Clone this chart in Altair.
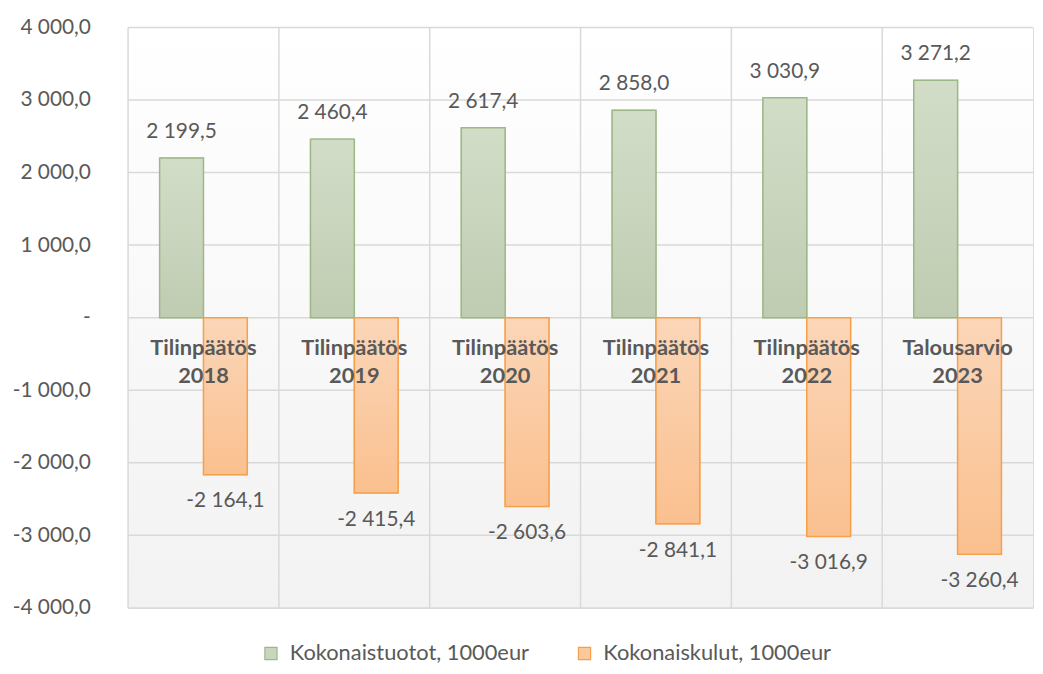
import altair as alt
import pandas as pd

# ---- data ----
categories = ["Tilinpäätös 2018", "Tilinpäätös 2019", "Tilinpäätös 2020",
              "Tilinpäätös 2021", "Tilinpäätös 2022", "Talousarvio 2023"]
income = [2199.5, 2460.4, 2617.4, 2858.0, 3030.9, 3271.2]
expenses = [-2164.1, -2415.4, -2603.6, -2841.1, -3016.9, -3260.4]
series_names = ["Kokonaistuotot, 1000eur", "Kokonaiskulut, 1000eur"]
tick_values = [4000, 3000, 2000, 1000, 0, -1000, -2000, -3000, -4000]
tick_labels = ["4 000,0", "3 000,0", "2 000,0", "1 000,0", "-",
               "-1 000,0", "-2 000,0", "-3 000,0", "-4 000,0"]

FONT = "Lato"
TXT = "#595959"
W, H = 912, 585


def fi_fmt(v):
    s = f"{abs(v):,.1f}".replace(",", " ").replace(".", ",")
    return ("-" if v < 0 else "") + s


rows = []
for c, a, b in zip(categories, income, expenses):
    rows.append({"cat": c, "series": series_names[0], "value": a, "label": fi_fmt(a)})
    rows.append({"cat": c, "series": series_names[1], "value": b, "label": fi_fmt(b)})
df = pd.DataFrame(rows)
cat_df = pd.DataFrame({"cat": categories,
                       "text": [c.replace(" ", "\n") for c in categories],
                       "zero": [0] * len(categories)})
tick_df = pd.DataFrame({"v": tick_values})

label_expr = "".join(f"datum.value == {v} ? '{l}' : " for v, l in zip(tick_values, tick_labels)) + "''"

x_scale = alt.Scale(paddingInner=0, paddingOuter=0)
x_enc = alt.X("cat:N", sort=categories, title=None, scale=x_scale, axis=None)
xo_enc = alt.XOffset("series:N", sort=series_names,
                     scale=alt.Scale(domain=series_names, paddingOuter=0.72, paddingInner=0))
y_scale = alt.Scale(domain=[-4000, 4000], nice=False, zero=False)
y_enc = alt.Y("value:Q", scale=y_scale, title=None,
              axis=alt.Axis(values=tick_values, labelExpr=label_expr, grid=False,
                            domain=False, ticks=False, tickSize=0, labelPadding=38,
                            labelFontSize=21, labelColor=TXT, labelFont=FONT))

base = alt.Chart(df)

bg = alt.Chart(pd.DataFrame({"a": [0]})).mark_rect(
    color=alt.LinearGradient(gradient="linear", x1=0, y1=0, x2=0, y2=1,
                             stops=[alt.GradientStop(color="#ffffff", offset=0),
                                    alt.GradientStop(color="#f2f2f2", offset=1)])
).encode(x=alt.value(0), x2=alt.value(W), y=alt.value(0), y2=alt.value(H))

hrules = alt.Chart(tick_df).mark_rule(color="#d9d9d9", strokeWidth=1.5).encode(
    y=alt.Y("v:Q", scale=y_scale))

vrules = alt.Chart(cat_df).mark_rule(color="#d9d9d9", strokeWidth=1.5).encode(
    x=alt.X("cat:N", sort=categories, bandPosition=0, scale=x_scale, axis=None))

leg = alt.Legend(title=None, orient="none", direction="horizontal",
                 legendX=133, legendY=620, symbolType="square", symbolSize=150,
                 symbolStrokeWidth=1.2, labelFontSize=22, labelColor=TXT,
                 labelFont=FONT, columnPadding=44, labelOffset=8, labelLimit=400)

legend_bars = base.mark_bar().encode(
    x=x_enc, xOffset=xo_enc, y=y_enc, y2=alt.datum(0),
    fill=alt.Fill("series:N", sort=series_names,
                  scale=alt.Scale(domain=series_names, range=["#c9d6bd", "#fbc99d"]),
                  legend=leg),
    stroke=alt.Stroke("series:N", sort=series_names,
                      scale=alt.Scale(domain=series_names, range=["#9db887", "#f5a04a"]),
                      legend=leg),
)

green_bars = base.transform_filter(alt.datum.series == series_names[0]).mark_bar(
    color=alt.LinearGradient(gradient="linear", x1=0, y1=0, x2=0, y2=1,
                             stops=[alt.GradientStop(color="#d2ddc8", offset=0),
                                    alt.GradientStop(color="#bfccb1", offset=1)]),
    stroke="#9db887", strokeWidth=1.5
).encode(x=x_enc, xOffset=xo_enc, y=y_enc, y2=alt.datum(0))

orange_bars = base.transform_filter(alt.datum.series == series_names[1]).mark_bar(
    color=alt.LinearGradient(gradient="linear", x1=0, y1=0, x2=0, y2=1,
                             stops=[alt.GradientStop(color="#fbd6b8", offset=0),
                                    alt.GradientStop(color="#fac08f", offset=1)]),
    stroke="#f5a04a", strokeWidth=1.5
).encode(x=x_enc, xOffset=xo_enc, y=y_enc, y2=alt.datum(0))

inc_labels = base.transform_filter(alt.datum.series == series_names[0]).mark_text(
    font=FONT, fontSize=21, color=TXT, baseline="middle", dy=-26
).encode(x=x_enc, xOffset=xo_enc, y=y_enc, text="label:N")

exp_labels = base.transform_filter(alt.datum.series == series_names[1]).mark_text(
    font=FONT, fontSize=21, color=TXT, baseline="middle", dy=27
).encode(x=x_enc, xOffset=xo_enc, y=y_enc, text="label:N")

cat_labels = alt.Chart(cat_df).mark_text(
    font=FONT, fontSize=22, fontWeight="bold", color=TXT, baseline="top",
    lineBreak="\n", lineHeight=28, dy=21
).encode(x=alt.X("cat:N", sort=categories, scale=x_scale, axis=None),
         y=alt.Y("zero:Q", scale=y_scale), text="text:N")

chart = alt.layer(bg, hrules, vrules, legend_bars, green_bars, orange_bars,
                  inc_labels, exp_labels, cat_labels).properties(
    width=W, height=H,
    autosize=alt.AutoSizeParams(type="none"),
    padding={"left": 121, "top": 17, "right": 2, "bottom": 56},
).configure_view(stroke=None).configure(background="white")

chart.save("out.html", embed_options={"renderer": "svg", "actions": False})
